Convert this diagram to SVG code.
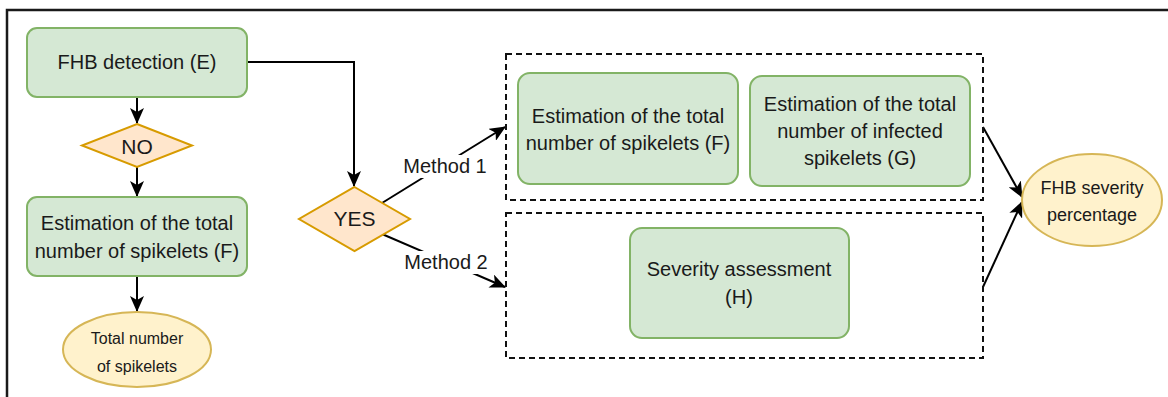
<svg xmlns="http://www.w3.org/2000/svg" width="1168" height="397" viewBox="0 0 1168 397">
<defs>
<style>
.g{fill:#d5e8d4;stroke:#82b366;stroke-width:2}
.d{fill:#ffe6cc;stroke:#d79b00;stroke-width:2}
.e{fill:#fff2cc;stroke:#d6b656;stroke-width:2}
.dash{fill:none;stroke:#111;stroke-width:2;stroke-dasharray:6 4}
.c{fill:none;stroke:#000;stroke-width:2}
text{font-family:"Liberation Sans",Arial,sans-serif;fill:#1a1a1a;text-anchor:middle;dominant-baseline:central}
.t20{font-size:20px}
.t21{font-size:21px}
.t18{font-size:18px}
.t16{font-size:16px}
</style>
<marker id="ah" markerWidth="16" markerHeight="14" refX="15" refY="7" orient="auto" markerUnits="userSpaceOnUse">
<path d="M0,0 L16,7 L0,14 L4,7 Z" fill="#000"/>
</marker>
</defs>
<rect width="1168" height="397" fill="#fff"/>
<path d="M7,397 V10 H1168" fill="none" stroke="#1a1a1a" stroke-width="2.5"/>

<g id="connectors">
<path class="c" d="M137,97 V123" marker-end="url(#ah)"/>
<path class="c" d="M137,167 V196" marker-end="url(#ah)"/>
<path class="c" d="M137,276 V311" marker-end="url(#ah)"/>
<path class="c" d="M247,62 H354 V186" marker-end="url(#ah)"/>
<path class="c" d="M382,203 L505,127" marker-end="url(#ah)"/>
<path class="c" d="M382,234 L505,287" marker-end="url(#ah)"/>
<path class="c" d="M983,127 L1022,197" marker-end="url(#ah)"/>
<path class="c" d="M983,287 L1022,202" marker-end="url(#ah)"/>
<rect x="402" y="155" width="86" height="23" fill="#fff"/>
<text class="t20" x="445" y="166">Method 1</text>
<rect x="402" y="251" width="87" height="23" fill="#fff"/>
<text class="t20" x="446" y="262">Method 2</text>
</g>

<g id="group-method1"><rect class="dash" x="506" y="54" width="477" height="146"/></g>
<g id="group-method2"><rect class="dash" x="506" y="213" width="477" height="145"/></g>

<g id="fhb-detection">
<rect class="g" x="27" y="28" width="220" height="69" rx="10"/>
<text class="t20" x="137" y="62">FHB detection (E)</text>
</g>
<g id="no">
<path class="d" d="M137,124 L192,145.5 L137,167 L82,145.5 Z"/>
<text class="t21" x="137" y="146">NO</text>
</g>
<g id="estimation-left">
<rect class="g" x="27" y="197" width="220" height="79" rx="10"/>
<text class="t20" x="137" y="223">Estimation of the total</text>
<text class="t20" x="137" y="251">number of spikelets (F)</text>
</g>
<g id="total-spikelets">
<ellipse class="e" cx="137" cy="349.5" rx="74" ry="37.5"/>
<text class="t16" x="137" y="338">Total number</text>
<text class="t16" x="137" y="366">of spikelets</text>
</g>
<g id="yes">
<path class="d" d="M354.5,187 L410,219 L354.5,251 L299,219 Z"/>
<text class="t21" x="354.5" y="218">YES</text>
</g>
<g id="estimation-f">
<rect class="g" x="518" y="73" width="220" height="111" rx="12"/>
<text class="t20" x="628" y="116">Estimation of the total</text>
<text class="t20" x="628" y="143">number of spikelets (F)</text>
</g>
<g id="estimation-g">
<rect class="g" x="750" y="76" width="220" height="110" rx="12"/>
<text class="t20" x="860" y="104">Estimation of the total</text>
<text class="t20" x="860" y="131">number of infected</text>
<text class="t20" x="860" y="158">spikelets (G)</text>
</g>
<g id="severity-assessment">
<rect class="g" x="630" y="228" width="219" height="110" rx="12"/>
<text class="t20" x="739" y="269">Severity assessment</text>
<text class="t20" x="739" y="297">(H)</text>
</g>
<g id="fhb-severity">
<ellipse class="e" cx="1092" cy="200" rx="70" ry="46"/>
<text class="t18" x="1092" y="188">FHB severity</text>
<text class="t18" x="1092" y="215">percentage</text>
</g>
</svg>
